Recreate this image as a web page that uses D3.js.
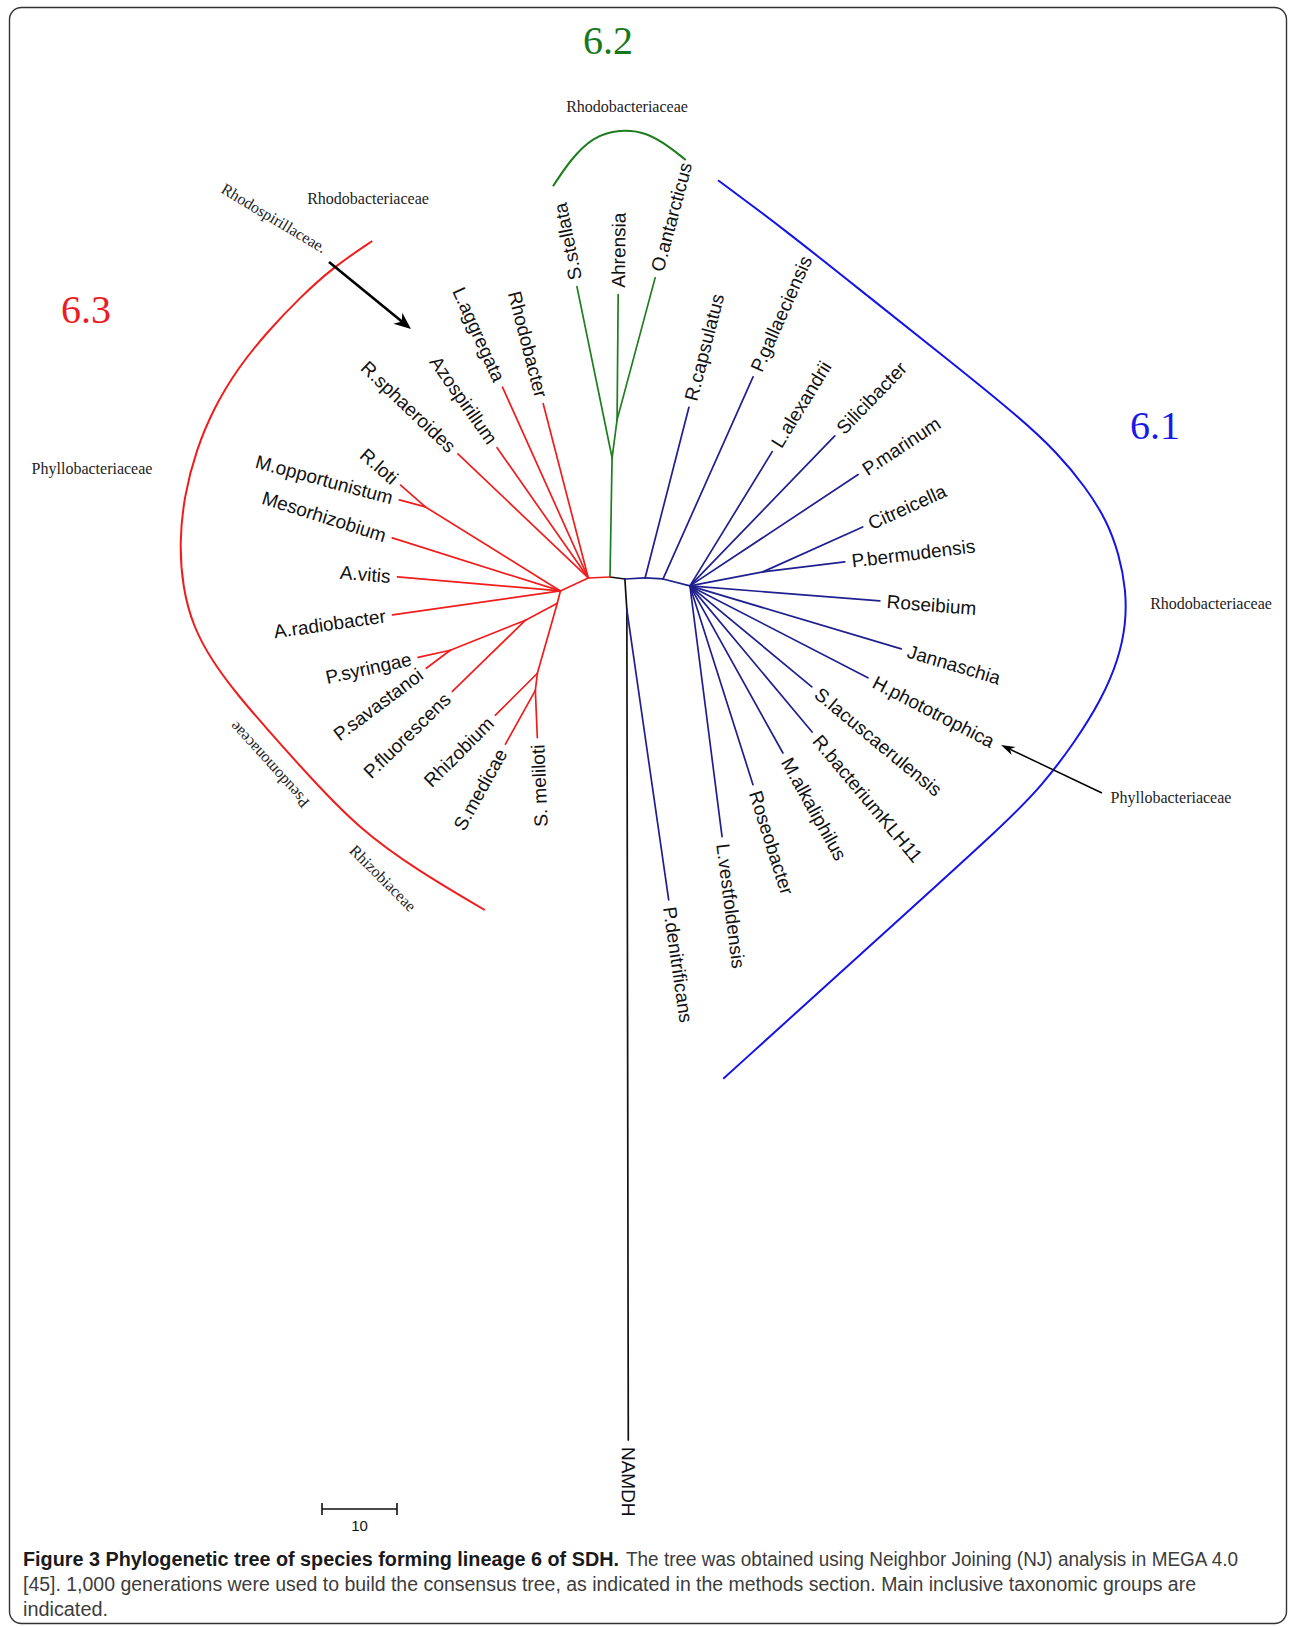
<!DOCTYPE html>
<html><head><meta charset="utf-8">
<script src="https://cdn.jsdelivr.net/npm/d3@7"></script>
<style>body{margin:0;background:#fff}</style>
</head><body>
<svg id="chart" width="1295" height="1627"></svg>
<script>
// ---------------- DATA ----------------
// Each branch: [node, parent, branch length (tree units), branch direction (degrees, screen, 0 = east)]
const outgroupBranches = [
  ["J", "O", 2.0, 7.6],
  ["N1", "J", 4.1, 86.3],
  ["NAMDH", "N1", 110.7, 89.9]
];
const clade61Branches = [
  ["P.denitrificans", "N1", 39.1, 81.8],
  ["B1", "J", 2.7, -2.9],
  ["R.capsulatus", "B1", 23.5, -75.6],
  ["B2", "B1", 2.4, 3.2],
  ["P.gallaeciensis", "B2", 29.5, -66.0],
  ["H", "B2", 3.7, 14.5],
  ["L.alexandrii", "H", 21.0, -58.5],
  ["Silicibacter", "H", 27.8, -46.0],
  ["P.marinum", "H", 26.9, -33.5],
  ["PB", "H", 9.9, -10.9],
  ["Citreicella", "PB", 14.6, -24.2],
  ["P.bermudensis", "PB", 11.0, -7.0],
  ["Roseibium", "H", 25.4, 4.5],
  ["Jannaschia", "H", 29.4, 16.6],
  ["H.phototrophica", "H", 26.7, 27.3],
  ["S.lacuscaerulensis", "H", 21.1, 39.6],
  ["R.bacteriumKLH11", "H", 25.4, 50.1],
  ["M.alkaliphilus", "H", 25.5, 60.9],
  ["Roseobacter", "H", 27.8, 72.4],
  ["L.vestfoldensis", "H", 33.7, 82.7]
];
const clade62Branches = [
  ["G1", "O", 15.9, -89.0],
  ["S.stellata", "G1", 23.3, -101.6],
  ["G2", "G1", 5.1, -82.5],
  ["Ahrensia", "G2", 16.7, -89.5],
  ["O.antarcticus", "G2", 19.6, -75.0]
];
const clade63Branches = [
  ["R1", "O", 2.9, 177.4],
  ["Rhodobacter", "R1", 24.0, -104.5],
  ["L.aggregata", "R1", 27.9, -114.2],
  ["Azospirillum", "R1", 21.2, -125.0],
  ["R.sphaeroides", "R1", 24.0, -136.4],
  ["R2", "R1", 4.1, 155.1],
  ["RL", "R2", 21.2, -148.1],
  ["R.loti", "RL", 4.4, -138.7],
  ["M.opportunistum", "RL", 3.6, -164.9],
  ["Mesorhizobium", "R2", 23.5, -162.5],
  ["A.vitis", "R2", 21.8, -175.1],
  ["A.radiobacter", "R2", 22.6, 171.9],
  ["R3", "R2", 1.7, 104.0],
  ["PQ", "R3", 4.8, 152.0],
  ["PS", "PQ", 10.8, 158.2],
  ["P.syringae", "PS", 4.4, 167.7],
  ["P.savastanoi", "PS", 4.0, 143.1],
  ["P.fluorescens", "PQ", 13.6, 135.8],
  ["R4", "R3", 9.7, 105.9],
  ["Rhizobium", "R4", 7.9, 135.0],
  ["R5", "R4", 2.3, 96.7],
  ["S.medicae", "R5", 8.2, 119.1],
  ["S. meliloti", "R5", 6.3, 87.6]
];
const cladeNames = ["out", "6.1", "6.2", "6.3"];
// Clade bracket outlines, in tree units relative to the root node
const bracket61 = [[14.4,-52.9],[23.3,-46.3],[34.7,-37.2],[45.3,-28.8],[54.7,-21.2],[59.6,-16.6],[63.4,-12.0],[66.2,-7.6],[67.9,-3.0],[68.8,1.8],[68.8,6.2],[67.8,11.0],[65.6,16.2],[62.0,22.0],[57.6,27.8],[52.9,32.7],[33.3,50.4],[15.1,66.9]];
const bracket62 = [[-7.6,-52.1],[-5.3,-55.6],[-2.3,-58.7],[1.3,-59.7],[4.9,-59.3],[8.0,-57.3],[10.1,-55.6]];
const bracket63 = [[-31.7,-44.8],[-36.9,-41.3],[-41.3,-37.3],[-45.6,-32.8],[-49.6,-27.9],[-52.8,-22.6],[-55.2,-16.9],[-56.8,-10.7],[-57.4,-4.6],[-57.0,1.3],[-55.6,6.6],[-53.0,11.3],[-49.6,15.8],[-45.7,20.3],[-40.0,26.7],[-33.3,33.7],[-25.7,39.1],[-16.7,44.4]];
const familyNames = ["Rhodobacteriaceae","Rhodobacteriaceae","Rhodospirillaceae.","Phyllobacteriaceae","Pseudomonaceae","Rhizobiaceae","Rhodobacteriaceae","Phyllobacteriaceae"];
const scaleBarUnits = 10;
const captionBold = "Figure 3 Phylogenetic tree of species forming lineage 6 of SDH.";
const captionLines = [
  "The tree was obtained using Neighbor Joining (NJ) analysis in MEGA 4.0",
  "[45]. 1,000 generations were used to build the consensus tree, as indicated in the methods section. Main inclusive taxonomic groups are",
  "indicated."
];

// ---------------- LAYOUT ----------------
const svg = d3.select("#chart");
const rootX = 610, rootY = 577, pxPerUnit = 7.5;
const x = d3.scaleLinear().domain([0, 1]).range([rootX, rootX + pxPerUnit]);
const y = d3.scaleLinear().domain([0, 1]).range([rootY, rootY + pxPerUnit]);
const len = d3.scaleLinear().domain([0, 1]).range([0, pxPerUnit]);

const branchColor = d3.scaleOrdinal().domain(cladeNames).range(["#111111", "#1f1f8f", "#1e7d1e", "#f01d1d"]);
const bracketColor = d3.scaleOrdinal().domain(cladeNames).range(["#000", "#1414e6", "#1e7d1e", "#f01d1d"]);
const numberColor = d3.scaleOrdinal().domain(cladeNames).range(["#000", "#1a1ae8", "#16781a", "#ec1c24"]);

svg.append("rect").attr("x", 9.5).attr("y", 7.5).attr("width", 1277).attr("height", 1616)
  .attr("rx", 12).attr("fill", "none").attr("stroke", "#333").attr("stroke-width", 1.4);

// build tree
const nodes = new Map();
nodes.set("O", {id: "O", ux: 0, uy: 0, children: []});
const allBranches = [];
[[outgroupBranches, "out"], [clade61Branches, "6.1"], [clade62Branches, "6.2"], [clade63Branches, "6.3"]]
  .forEach(([arr, clade]) => arr.forEach(b => allBranches.push({id: b[0], parent: b[1], L: b[2], a: b[3], clade})));
let pending = allBranches.slice();
while (pending.length) {
  const rest = [];
  pending.forEach(b => {
    const p = nodes.get(b.parent);
    if (!p) { rest.push(b); return; }
    const r = b.a * Math.PI / 180;
    const n = {id: b.id, ux: p.ux + b.L * Math.cos(r), uy: p.uy + b.L * Math.sin(r), angle: b.a, clade: b.clade, parent: p, children: []};
    p.children.push(n);
    nodes.set(b.id, n);
  });
  if (rest.length === pending.length) break;
  pending = rest;
}

const gTree = svg.append("g");
gTree.selectAll("line.branch").data([...nodes.values()].filter(n => n.parent))
  .join("line").attr("class", "branch")
  .attr("x1", d => x(d.parent.ux)).attr("y1", d => y(d.parent.uy))
  .attr("x2", d => x(d.ux)).attr("y2", d => y(d.uy))
  .attr("stroke", d => branchColor(d.clade)).attr("stroke-width", 1.7).attr("stroke-linecap", "round");

// leaf labels
const leaves = [...nodes.values()].filter(n => n.parent && n.children.length === 0);
gTree.selectAll("text.leaf").data(leaves).join("text").attr("class", "leaf")
  .each(function (d) {
    const ca = Math.atan2(d.uy, d.ux) * 180 / Math.PI;
    const flip = ca > 90 || ca < -100;
    d3.select(this)
      .attr("transform", `translate(${x(d.ux)},${y(d.uy)}) rotate(${flip ? d.angle + 180 : d.angle})`)
      .attr("x", flip ? -7 : 7).attr("dy", "0.35em").attr("text-anchor", flip ? "end" : "start");
  })
  .attr("font-family", "'Liberation Sans', Arial, sans-serif").attr("font-size", 19).attr("fill", "#111")
  .text(d => d.id);

// clade brackets
const bracketLine = d3.line().x(d => x(d[0])).y(d => y(d[1])).curve(d3.curveBasis);
[[bracket61, "6.1"], [bracket62, "6.2"], [bracket63, "6.3"]].forEach(([pts, c]) => {
  svg.append("path").attr("d", bracketLine(pts)).attr("fill", "none")
    .attr("stroke", bracketColor(c)).attr("stroke-width", 2);
});

// clade numbers
const numberPos = {"6.1": [1155, 439], "6.2": [608, 54], "6.3": [86, 323]};
["6.1", "6.2", "6.3"].forEach(c => {
  svg.append("text").attr("x", numberPos[c][0]).attr("y", numberPos[c][1]).attr("text-anchor", "middle")
    .attr("font-family", "'Liberation Serif', 'Times New Roman', serif").attr("font-size", 40)
    .attr("fill", numberColor(c)).text(c);
});

// family labels (serif)
const familyPos = [[627, 106, 0], [368, 198, 0], [274, 218, 31], [92, 468, 0], [269, 765, -132.2], [383, 878, 45], [1211, 603, 0], [1171, 797, 0]];
familyNames.forEach((t, i) => {
  const [fx, fy, fr] = familyPos[i];
  svg.append("text").attr("transform", `translate(${fx},${fy}) rotate(${fr})`)
    .attr("text-anchor", "middle").attr("dy", "0.35em")
    .attr("font-family", "'Liberation Serif', 'Times New Roman', serif").attr("font-size", 16)
    .attr("fill", "#222").text(t);
});

// arrows
function arrow(x1, y1, x2, y2, w, hl, hw) {
  const dx = x2 - x1, dy = y2 - y1, d = Math.hypot(dx, dy), ux = dx / d, uy = dy / d;
  const bx = x2 - ux * hl, by = y2 - uy * hl;
  const nx = bx + ux * hl * 0.3, ny = by + uy * hl * 0.3;
  svg.append("line").attr("x1", x1).attr("y1", y1).attr("x2", x2 - ux * hl * 0.6).attr("y2", y2 - uy * hl * 0.6)
    .attr("stroke", "#000").attr("stroke-width", w);
  svg.append("path").attr("d", `M${x2},${y2}L${bx - uy * hw},${by + ux * hw}L${nx},${ny}L${bx + uy * hw},${by - ux * hw}Z`)
    .attr("fill", "#000");
}
arrow(329, 262, 411, 329, 2.6, 17, 7);
arrow(1102, 793, 1001, 745, 1.5, 14, 4.5);

// scale bar
const sbX = 322, sbY = 1509;
svg.append("path").attr("d", `M${sbX},${sbY - 6}V${sbY + 6}M${sbX},${sbY}H${sbX + len(scaleBarUnits)}M${sbX + len(scaleBarUnits)},${sbY - 6}V${sbY + 6}`)
  .attr("stroke", "#111").attr("stroke-width", 1.6).attr("fill", "none");
svg.append("text").attr("x", sbX + len(scaleBarUnits) / 2).attr("y", 1531).attr("text-anchor", "middle")
  .attr("font-family", "'Liberation Sans Narrow', 'Liberation Sans', Arial, sans-serif").attr("font-size", 15)
  .attr("fill", "#111").text(scaleBarUnits);

// caption
const capFont = "'Liberation Sans', 'Open Sans', sans-serif";
svg.append("text").attr("x", 23).attr("y", 1566).attr("font-family", capFont).attr("font-size", 20)
  .attr("font-weight", "bold").attr("fill", "#1a1a1a").attr("textLength", 596).attr("lengthAdjust", "spacingAndGlyphs").text(captionBold);
svg.append("text").attr("x", 626).attr("y", 1566).attr("font-family", capFont).attr("font-size", 20)
  .attr("fill", "#3c3c3c").attr("textLength", 612).attr("lengthAdjust", "spacingAndGlyphs").text(captionLines[0]);
svg.append("text").attr("x", 23).attr("y", 1591).attr("font-family", capFont).attr("font-size", 20)
  .attr("fill", "#3c3c3c").attr("textLength", 1173).attr("lengthAdjust", "spacingAndGlyphs").text(captionLines[1]);
svg.append("text").attr("x", 23).attr("y", 1616).attr("font-family", capFont).attr("font-size", 20)
  .attr("fill", "#3c3c3c").attr("textLength", 85).attr("lengthAdjust", "spacingAndGlyphs").text(captionLines[2]);
</script>
</body></html>
